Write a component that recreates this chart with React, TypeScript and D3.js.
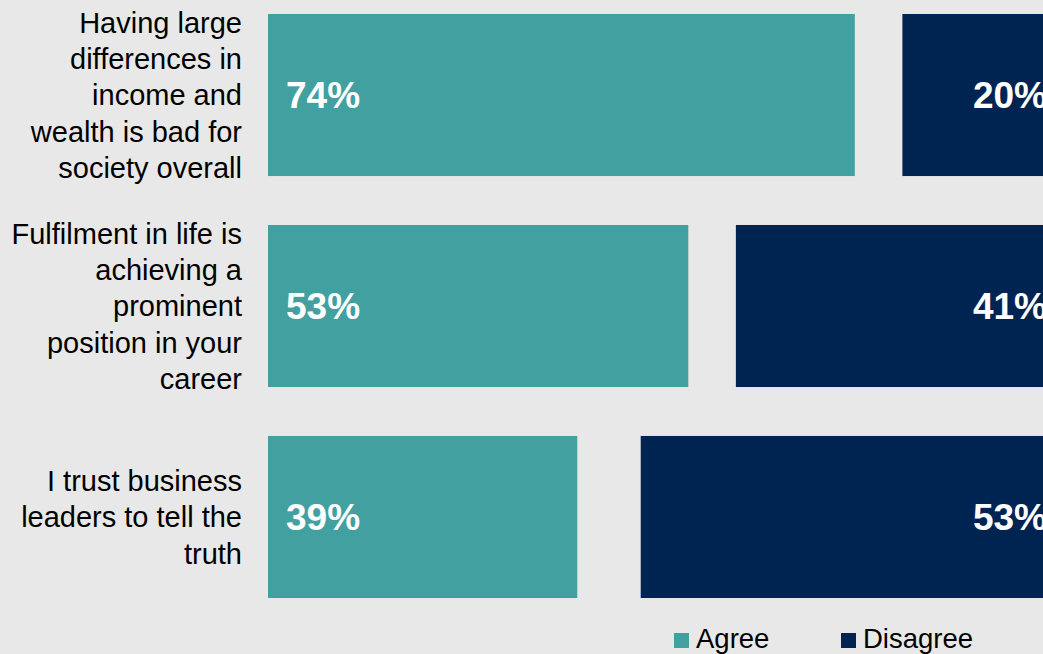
import React from "react";
import * as d3 from "d3";

const categories: string[] = [
  "Having large differences in income and wealth is bad for society overall",
  "Fulfilment in life is achieving a prominent position in your career",
  "I trust business leaders to tell the truth",
];
const categoryLines: string[][] = [
  ["Having large", "differences in", "income and", "wealth is bad for", "society overall"],
  ["Fulfilment in life is", "achieving a", "prominent", "position in your", "career"],
  ["I trust business", "leaders to tell the", "truth"],
];
const agree: number[] = [74, 53, 39];
const disagree: number[] = [20, 41, 53];
const seriesNames: string[] = ["Agree", "Disagree"];
const seriesColors: string[] = ["#43A0A0", "#002452"];

const W = 1043;
const H = 654;
const FONT = "'Liberation Sans', Arial, sans-serif";

export default function App() {
  const x = d3.scaleLinear().domain([0, 100]).range([268, 1061]);
  const y = d3
    .scaleBand<string>()
    .domain(categories)
    .range([14, 598])
    .paddingInner(0.232)
    .paddingOuter(0);
  const bw = y.bandwidth();
  const lineH = 36.4;
  const labelSize = 29;
  const valueSize = 37;

  return (
    <svg
      width={W}
      height={H}
      style={{ position: "fixed", left: 0, top: 0, display: "block" }}
      fontFamily={FONT}
    >
      <rect x={0} y={0} width={W} height={H} fill="#E8E8E8" />
      {categories.map((c, i) => {
        const y0 = y(c) as number;
        const cy = y0 + bw / 2;
        const lines = categoryLines[i];
        const firstCenter = cy - ((lines.length - 1) * lineH) / 2;
        return (
          <g key={c}>
            <rect x={x(0)} y={y0} width={x(agree[i]) - x(0)} height={bw} fill={seriesColors[0]} />
            <rect
              x={x(100 - disagree[i])}
              y={y0}
              width={x(100) - x(100 - disagree[i])}
              height={bw}
              fill={seriesColors[1]}
            />
            <text
              x={x(0) + 18}
              y={cy + valueSize * 0.36}
              fill="#fff"
              fontWeight="bold"
              fontSize={valueSize}
            >
              {agree[i]}%
            </text>
            <text
              x={x(100) - 14}
              y={cy + valueSize * 0.36}
              fill="#fff"
              fontWeight="bold"
              fontSize={valueSize}
              textAnchor="end"
            >
              {disagree[i]}%
            </text>
            <text fontSize={labelSize} fill="#000" textAnchor="end">
              {lines.map((l, j) => (
                <tspan key={j} x={242} y={firstCenter + j * lineH + labelSize * 0.358}>
                  {l}
                </tspan>
              ))}
            </text>
          </g>
        );
      })}
      {seriesNames.map((s, i) => {
        const lx = [674, 841][i];
        return (
          <g key={s}>
            <rect x={lx} y={633} width={15} height={15} fill={seriesColors[i]} />
            <text x={lx + 22} y={648} fontSize={27.5} fill="#000">
              {s}
            </text>
          </g>
        );
      })}
    </svg>
  );
}
